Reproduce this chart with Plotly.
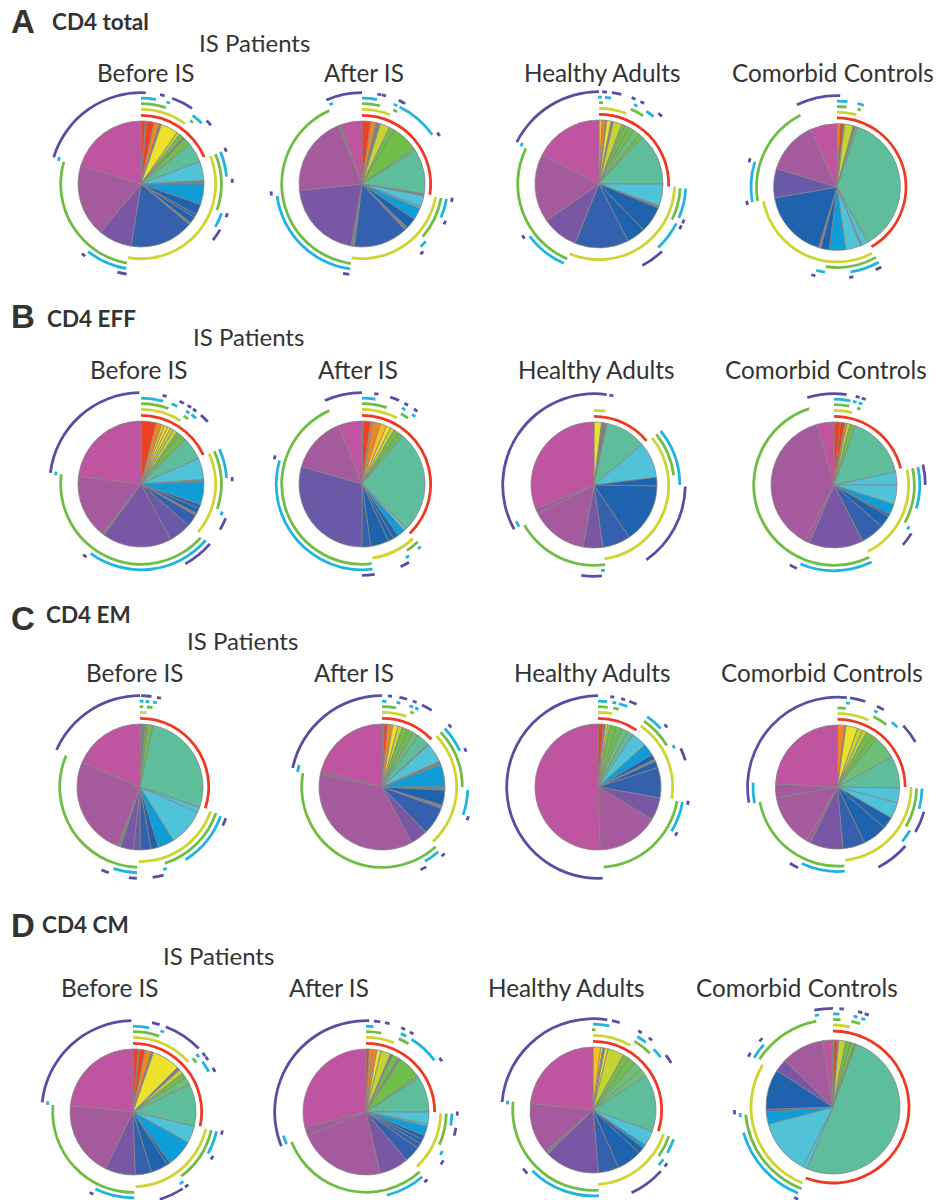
import plotly.graph_objects as go

# ---------- data: slice sizes (degrees of a 360 total), slice colour codes, arcs per ring (red, yellow, green, cyan, purple) ----------
A1_sizes = [4,1,7,5,2,16,3,4,2,7,18,18,3,19,10,3,6,2,59,31,67,73]
A1_codes = "rxroxylnxntcxsbibxipmh"
A1_arcs = [[(0,67)],
           [(0,36),(68,190)],
           [(0,18),(38,40),(68,109),(190,286)],
           [(0,10),(18,19),(37,45),(68,85),(110,120),(190,218),(287,287)],
           [(287,363),(12,15),(20,34),(46,50),(68,68),(88,88),(110,110),(120,128),(189,195),(219,219)]]
A2_sizes = [8,5,4,9,5,25,2,41,2,10,2,11,10,3,50,3,74,74,2,20]
A2_codes = "roxlnnetxccsbxixpmxh"
A2_arcs = [[(0,99)],
           [(0,22),(100,188)],
           [(0,13),(23,26),(100,131),(188,336)],
           [(0,10),(23,23),(26,55),(100,113),(132,137),(188,262),(338,340)],
           [(337,360),(11,11),(14,14),(25,25),(27,27),(57,57),(100,100),(115,115),(139,139),(188,192),(264,264)]]
A3_sizes = [3,3,1,4,2,8,3,4,5,6,4,47,20,2,24,17,49,33,62,63]
A3_codes = "goxyxlnnnentcxbbipmh"
A3_arcs = [[(0,92)],
           [(0,21),(92,203)],
           [(0,3),(23,33),(93,116),(203,296)],
           [(0,1),(4,8),(24,26),(33,39),(93,113),(117,137),(204,233),(297,297)],
           [(297,360),(2,5),(8,14),(22,22),(28,28),(40,43),(114,114),(118,118),(137,152),(235,235)]]
A4_sizes = [3,3,1,8,2,2,132,6,1,14,15,8,2,63,27,48,25]
A4_codes = "orxlxntcxcsbxbvmh"
A4_arcs = [[(0,150)],
           [(0,15),(152,259)],
           [(0,7),(16,16),(151,188),(260,333)],
           [(0,7),(15,15),(17,17),(151,171),(188,194),(260,287)],
           [(334,362),(151,155),(171,171),(195,195),(260,260),(287,287)]]
B1_sizes = [14,5,3,3,3,3,4,3,7,21,20,2,21,4,5,2,11,21,64,2,59,83]
B1_codes = "rogyyllnntcxsibxivpxmh"
B1_arcs = [[(0,65)],
           [(0,32),(66,130)],
           [(0,20),(32,36),(66,108),(132,277)],
           [(0,15),(21,25),(33,33),(36,40),(66,86),(110,110),(131,216),(277,277)],
           [(277,359),(15,15),(25,28),(32,32),(36,36),(41,47),(87,87),(112,120),(131,151),(218,218)]]
B2_sizes = [1,7,2,7,6,4,4,5,4,95,3,7,5,5,17,8,106,52,22]
B2_codes = "xroogylnntcsbbbivmh"
B2_arcs = [[(0,136)],
           [(0,28),(137,172)],
           [(0,18),(29,35),(136,146),(173,336)],
           [(0,9),(29,29),(37,37),(138,138),(148,148),(173,286)],
           [(336,360),(9,9),(18,24),(29,29),(36,36),(149,155),(172,180),(287,287)]]
B3_sizes = [7,5,38,33,8,55,26,18,53,5,112]
B3_codes = "yxtcbbipmmh"
B3_arcs = [[(0,50)],
           [(0,9),(51,172)],
           [(51,83),(172,240)],
           [(51,90),(241,245),(174,174)],
           [(241,368),(11,11),(91,145),(175,188)]]
B4_sizes = [6,4,2,3,5,58,12,18,10,2,11,22,50,5,136,16]
B4_codes = "rrolntccsbbipmmh"
B4_arcs = [[(0,76)],
           [(0,14),(78,153)],
           [(0,11),(18,18),(78,118),(154,342)],
           [(0,11),(14,14),(18,18),(78,106),(120,120),(154,203)],
           [(343,368),(15,15),(19,19),(77,90),(122,131),(204,209)]]
C1_sizes = [5,2,5,97,5,34,15,7,10,6,12,3,92,67]
C1_codes = "xnntccsbivpxmh"
C1_arcs = [[(0,108)],
           [(0,5),(109,181)],
           [(0,2),(5,9),(109,162),(182,293)],
           [(1,1),(5,5),(10,10),(110,148),(163,163),(182,198)],
           [(294,360),(2,2),(4,4),(6,6),(12,12),(110,115),(165,172),(182,187),(200,205)]]
C2_sizes = [2,3,5,5,4,6,5,5,12,1,18,3,21,3,14,3,26,16,130,3,75]
C2_codes = "xroylnnetxcxsxbxipmmh"
C2_arcs = [[(0,46)],
           [(0,19),(47,137)],
           [(0,10),(22,22),(47,90),(138,280)],
           [(0,3),(11,11),(20,20),(24,24),(47,65),(92,109),(139,150),(280,285)],
           [(282,360),(5,5),(11,16),(21,21),(26,33),(48,48),(66,66),(110,110),(138,138),(151,155)]]
C3_sizes = [5,2,2,2,6,5,6,6,14,11,5,2,6,28,21,57,182]
C3_codes = "rxylnnetcsbxbipmh"
C3_arcs = [[(0,34)],
           [(0,11),(35,99)],
           [(0,7),(11,15),(35,59),(100,176)],
           [(0,6),(11,11),(14,20),(35,47),(61,63),(100,121)],
           [(177,360),(9,9),(16,16),(20,25),(48,48),(65,73),(100,100),(121,121)]]
C4_sizes = [7,1,11,5,4,6,5,22,30,14,15,11,23,21,31,4,50,13,87]
C4_codes = "oxyllnnetccbbipmmmh"
C4_arcs = [[(0,90)],
           [(0,25),(90,174)],
           [(0,6),(27,38),(91,120),(175,259)],
           [(7,7),(27,27),(40,45),(91,105),(121,130),(175,205),(259,273)],
           [(260,366),(8,18),(26,31),(47,60),(106,120),(131,153),(206,212)]]
D1_sizes = [5,1,5,6,2,26,3,4,5,7,39,16,25,3,16,15,28,70,84]
D1_codes = "rxroxyxlnetcsbbipmh"
D1_arcs = [[(0,102)],
           [(0,48),(103,178)],
           [(0,19),(48,52),(103,143),(179,275)],
           [(0,11),(20,20),(49,49),(54,62),(103,119),(144,147),(179,206),(276,276)],
           [(276,359),(12,17),(21,46),(51,51),(54,54),(61,64),(103,103),(120,120),(144,144),(147,163),(207,207)]]
D2_sizes = [3,4,3,4,9,2,6,2,22,2,33,11,2,9,4,4,5,15,27,81,8,104]
D2_codes = "rooylxnxnetccsbbiipmmh"
D2_arcs = [[(0,90)],
           [(0,22),(91,137)],
           [(0,11),(24,32),(91,114),(138,248)],
           [(0,5),(24,28),(32,53),(91,99),(117,120),(139,166),(248,254)],
           [(248,362),(5,9),(12,15),(24,24),(30,30),(55,55),(91,91),(100,105),(122,125),(139,139)]]
D3_sizes = [7,2,2,3,15,6,7,8,7,53,14,3,6,23,19,51,3,47,84]
D3_codes = "gyxylnneetcsbbipxmh"
D3_arcs = [[(0,108)],
           [(0,30),(109,176)],
           [(0,1),(31,45),(109,125),(176,276)],
           [(0,11),(31,38),(45,52),(110,120),(125,130),(176,225),(275,275)],
           [(275,369),(12,17),(31,31),(39,39),(53,59),(127,127),(132,155),(226,230)]]
D4_sizes = [1,3,1,6,4,4,1,183,4,48,11,2,35,11,37,8,1]
D4_codes = "xrxlnnxtccsvbpmhx"
D4_arcs = [[(0,201)],
           [(0,12),(202,301)],
           [(0,5),(12,18),(201,265),(303,349)],
           [(0,4),(14,14),(19,19),(202,254),(265,265),(302,312),(350,350)],
           [(349,360),(5,5),(16,16),(20,20),(202,202),(267,267),(302,302),(313,313)]]

ROW_LABELS = ["A", "B", "C", "D"]
ROW_TITLES = ["CD4 total", "CD4 EFF", "CD4 EM", "CD4 CM"]
COLUMN_TITLES = ["Before IS", "After IS", "Healthy Adults", "Comorbid Controls"]
GROUP_TITLE = "IS Patients"

# ---------- style & layout ----------
W, H = 938, 1240   # clipped to 1200 by the page; plotly polar domains cannot leave the paper
SLICE = dict(r="#EE4023", o="#F08522", g="#FBBE1E", y="#EDE12B", l="#C5D433", n="#70BE4A", e="#6CBF78",
             t="#5EBE9C", c="#50C3D8", s="#0F9DD7", b="#1F62AE", i="#3560AE", v="#6A59A6", p="#7A57A5",
             m="#A65A9E", h="#BF55A0", x="#808080")
RINGS = ["#EE3A24", "#CDD52E", "#6FBE44", "#1FB5DF", "#5A4EA4"]
RING_OFFSETS = [5.7, 11.7, 17.3, 22.8, 28.3]
THICK = 2.8
PANELS = [
    ("A1", A1_sizes, A1_codes, A1_arcs, 141, 184, 63, 0), ("A2", A2_sizes, A2_codes, A2_arcs, 362, 184, 63, 0),
    ("A3", A3_sizes, A3_codes, A3_arcs, 599, 184, 64, 0), ("A4", A4_sizes, A4_codes, A4_arcs, 838, 187, 64, 0),
    ("B1", B1_sizes, B1_codes, B1_arcs, 141, 484, 63, 0), ("B2", B2_sizes, B2_codes, B2_arcs, 362, 484, 63, 0),
    ("B3", B3_sizes, B3_codes, B3_arcs, 594, 485, 63, 0), ("B4", B4_sizes, B4_codes, B4_arcs, 834, 485, 63, 0),
    ("C1", C1_sizes, C1_codes, C1_arcs, 140, 787, 63, 0), ("C2", C2_sizes, C2_codes, C2_arcs, 382, 787, 63, 0),
    ("C3", C3_sizes, C3_codes, C3_arcs, 598, 787, 63, 0), ("C4", C4_sizes, C4_codes, C4_arcs, 839, 787, 63, 0),
    ("D1", D1_sizes, D1_codes, D1_arcs, 133, 1112, 63, 0), ("D2", D2_sizes, D2_codes, D2_arcs, 366, 1112, 63, 0),
    ("D3", D3_sizes, D3_codes, D3_arcs, 593, 1110, 63, 0), ("D4", D4_sizes, D4_codes, D4_arcs, 833, 1107, 67, 3.3),
]
RMAX_PX = 102   # half-size of every polar domain

fig = go.Figure()
layout = {}
for k, (name, sizes, codes, arcs, cx, cy, R, extra) in enumerate(PANELS):
    sub = "polar" if k == 0 else f"polar{k+1}"
    centers, pos = [], 0
    for s in sizes:
        centers.append(pos + s / 2)
        pos += s
    fig.add_trace(go.Barpolar(theta=centers, width=sizes, r=[R] * len(sizes), subplot=sub,
                              marker=dict(color=[SLICE[c] for c in codes], line=dict(color="#858585", width=0.8)),
                              name=name, showlegend=False, hoverinfo="skip"))
    for ring, spans in enumerate(arcs):
        if not spans:
            continue
        th = [(a + b) / 2 % 360 for a, b in spans]
        wd = [max(b - a, 2.6) for a, b in spans]
        base = R + RING_OFFSETS[ring] + extra - THICK / 2
        fig.add_trace(go.Barpolar(theta=th, width=wd, base=[base] * len(th), r=[THICK] * len(th), subplot=sub,
                                  marker=dict(color=RINGS[ring], line=dict(width=0)),
                                  showlegend=False, hoverinfo="skip"))
    layout[sub] = dict(
        domain=dict(x=[(cx - RMAX_PX) / W if cx > RMAX_PX else 0, (cx + RMAX_PX) / W if cx + RMAX_PX < W else 1],
                    y=[1 - (cy + RMAX_PX) / H, 1 - (cy - RMAX_PX) / H]),
        bgcolor="rgba(0,0,0,0)",
        radialaxis=dict(visible=False, range=[0, RMAX_PX]),
        angularaxis=dict(visible=False, direction="clockwise", rotation=90, thetaunit="degrees"),
    )

def note(text, x, y, size, anchor="center", bold=False, family="Lato"):
    return dict(text=f"<b>{text}</b>" if bold else text, x=x / W, y=1 - y / H, xref="paper", yref="paper",
                xanchor=anchor, yanchor="middle", showarrow=False, font=dict(size=size, color="#333333", family=family))

ann = []
LABEL_XY = [(9, 22), (9, 317), (9, 618), (9, 925)]
TITLE_XY = [(50, 22), (45, 318), (44, 614), (40, 924)]
GROUP_XY = [(254, 42), (248, 337), (243, 640), (218, 955)]
HEAD_Y = [73, 369, 672, 987]
HEAD_X = [[146, 364, 602, 833], [139, 358, 596, 826], [135, 354, 592, 822], [110, 329, 566, 797]]
for i in range(4):
    ann.append(note(ROW_LABELS[i], *LABEL_XY[i], 33, "left", True, "Liberation Sans"))
    ann.append(note(ROW_TITLES[i], *TITLE_XY[i], 22.5, "left", True))
    ann.append(note(GROUP_TITLE, *GROUP_XY[i], 24))
    for j in range(4):
        ann.append(note(COLUMN_TITLES[j], HEAD_X[i][j], HEAD_Y[i], 24.3))

fig.update_layout(width=W, height=H, margin=dict(l=0, r=0, t=0, b=0), paper_bgcolor="white",
                  plot_bgcolor="white", showlegend=False, annotations=ann, **layout)
fig.write_html("out.html", config=dict(displayModeBar=False),
               post_script="document.body.style.margin='0';document.documentElement.style.overflow='hidden';document.body.style.overflow='hidden';document.body.style.height='1200px';document.documentElement.style.height='1200px';")
